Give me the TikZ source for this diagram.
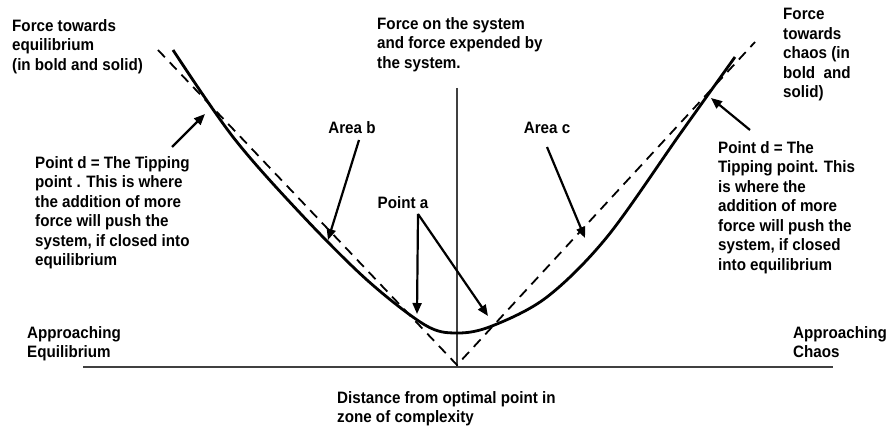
\documentclass[tikz,border=0pt]{standalone}
\usepackage{fontspec}
\setmainfont{Liberation Sans}[FakeStretch=0.92]
\usetikzlibrary{arrows.meta}
\begin{document}
\begin{tikzpicture}[x=1pt,y=-1pt,
  lbl/.style={inner sep=0pt,font=\fontsize{16.5}{19.5}\selectfont\bfseries,align=left},
  axisline/.style={draw=black!75,line width=1.4pt},
  guide/.style={draw=black,line width=1.8pt,dash pattern=on 10pt off 7pt},
  curveline/.style={draw=black,line width=2.8pt},
  pointer/.style={draw=black,line width=2.2pt,-{Triangle[length=11pt,width=9pt]}}]
\useasboundingbox[fill=white] (0,0) rectangle (888,427);

% axes
\coordinate (hl) at (83,367);
\coordinate (hr) at (833,367);
\coordinate (vt) at (457,88);
\coordinate (vb) at (457,367);
\draw[axisline] (hl) -- (hr);
\draw[axisline,line width=1.1pt] (vt) -- (vb);

% dashed V
\coordinate (dl) at (158,50);
\coordinate (apex) at (457,365);
\coordinate (dr) at (755,42);
\draw[guide] (dl) -- (apex) -- (dr);

% solid curve
\draw[curveline] plot[smooth,tension=0.55] coordinates {
 (173,50) (233,137) (300,213) (367,280) (425,325) (457,333)
 (492,326) (547,297) (607,237) (680,134) (735,57)};

% texts
\node[lbl,anchor=north west] (eq) at (12,19) {Force towards\\equilibrium\\(in bold and solid)};
\node[lbl,anchor=north west] (sys) at (377,17) {Force on the system\\and force expended by\\the system.};
\node[lbl,anchor=north west] (ch) at (783,8) {Force\\towards\\chaos (in\\bold~ and\\solid)};
\node[lbl,anchor=north west] (tipl) at (35,156) {Point d = The Tipping\\point . This is where\\the addition of more\\force will push the\\system, if closed into\\equilibrium};
\node[lbl,anchor=north west] (tipr) at (718,141) {Point d = The\\Tipping point. This\\is where the\\addition of more\\force will push the\\system, if closed\\into equilibrium};
\node[lbl] (areab) at (352,128) {Area b};
\node[lbl] (areac) at (547,128) {Area c};
\node[lbl] (pointa) at (403,203) {Point a};
\node[lbl,anchor=north west] (appeq) at (27,326) {Approaching\\Equilibrium};
\node[lbl,anchor=north west] (appch) at (793,326) {Approaching\\Chaos};
\node[lbl,anchor=north west] (dist) at (337,391) {Distance from optimal point in\\zone of complexity};

% arrows
\coordinate (tlS) at (172,147); \coordinate (tlE) at (205,114);
\coordinate (trS) at (750,130); \coordinate (trE) at (711,98);
\coordinate (abS) at (359,140); \coordinate (abE) at (328,240);
\coordinate (acS) at (547,147); \coordinate (acE) at (585,238);
\coordinate (paS) at (418,214); \coordinate (paE1) at (417,314); \coordinate (paE2) at (488,316);
\draw[pointer] (tlS) -- (tlE);
\draw[pointer] (trS) -- (trE);
\draw[pointer] (abS) -- (abE);
\draw[pointer] (acS) -- (acE);
\draw[pointer] (paS) -- (paE1);
\draw[pointer] (paS) -- (paE2);
\end{tikzpicture}
\end{document}
